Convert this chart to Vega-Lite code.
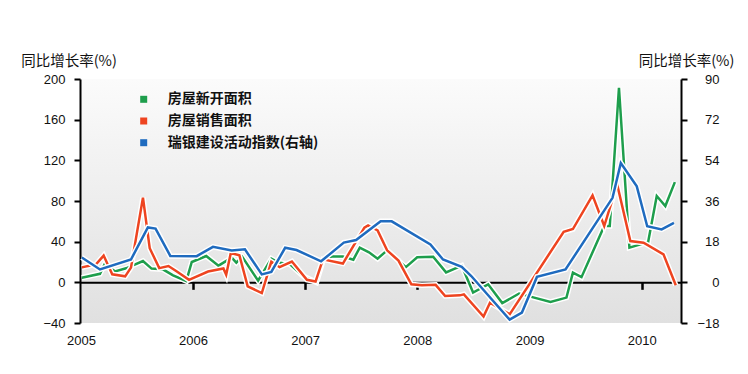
{
  "$schema": "https://vega.github.io/schema/vega-lite/v6.json",
  "width": 601,
  "height": 244,
  "autosize": "none",
  "padding": {"left": 80, "top": 79, "right": 67, "bottom": 51},
  "background": "#ffffff",
  "config": {
    "view": {"stroke": null, "fill": {"gradient": "linear", "x1": 0, "y1": 0, "x2": 0, "y2": 1, "stops": [{"offset": 0, "color": "#fbfbfb"}, {"offset": 1, "color": "#e0e0e0"}]}},
    "axis": {"grid": false, "labelFont": "Liberation Sans", "labelFontSize": 13, "labelColor": "#111111", "domainColor": "#000000", "tickColor": "#000000", "domainWidth": 2, "tickWidth": 2, "titleFont": "Noto Sans CJK SC", "titleFontSize": 14.5, "titleColor": "#111111", "titleFontWeight": "normal"}
  },
  "data": {"values": [
    {"s": "房屋新开面积", "d": "2005-01-04", "v": 4.6},
    {"s": "房屋新开面积", "d": "2005-03-04", "v": 8.4},
    {"s": "房屋新开面积", "d": "2005-03-19", "v": 17.7},
    {"s": "房屋新开面积", "d": "2005-04-22", "v": 10.8},
    {"s": "房屋新开面积", "d": "2005-05-28", "v": 13.8},
    {"s": "房屋新开面积", "d": "2005-07-22", "v": 21},
    {"s": "房屋新开面积", "d": "2005-08-19", "v": 13.5},
    {"s": "房屋新开面积", "d": "2005-09-25", "v": 12.8},
    {"s": "房屋新开面积", "d": "2005-10-28", "v": 6.9},
    {"s": "房屋新开面积", "d": "2005-12-10", "v": 1.3},
    {"s": "房屋新开面积", "d": "2005-12-28", "v": 20},
    {"s": "房屋新开面积", "d": "2006-02-13", "v": 25.9},
    {"s": "房屋新开面积", "d": "2006-03-25", "v": 16.4},
    {"s": "房屋新开面积", "d": "2006-05-07", "v": 24.3},
    {"s": "房屋新开面积", "d": "2006-05-22", "v": 19.4},
    {"s": "房屋新开面积", "d": "2006-06-10", "v": 25.3},
    {"s": "房屋新开面积", "d": "2006-08-01", "v": 1.7},
    {"s": "房屋新开面积", "d": "2006-09-13", "v": 23.3},
    {"s": "房屋新开面积", "d": "2006-10-07", "v": 19.4},
    {"s": "房屋新开面积", "d": "2006-11-13", "v": 17.7},
    {"s": "房屋新开面积", "d": "2006-12-25", "v": 6.2},
    {"s": "房屋新开面积", "d": "2007-02-07", "v": 0},
    {"s": "房屋新开面积", "d": "2007-03-01", "v": 22.1},
    {"s": "房屋新开面积", "d": "2007-03-28", "v": 25.3},
    {"s": "房屋新开面积", "d": "2007-05-04", "v": 25.3},
    {"s": "房屋新开面积", "d": "2007-06-07", "v": 22.3},
    {"s": "房屋新开面积", "d": "2007-06-28", "v": 34.1},
    {"s": "房屋新开面积", "d": "2007-07-28", "v": 29.5},
    {"s": "房屋新开面积", "d": "2007-08-25", "v": 23.3},
    {"s": "房屋新开面积", "d": "2007-09-25", "v": 31.5},
    {"s": "房屋新开面积", "d": "2007-11-25", "v": 14.9},
    {"s": "房屋新开面积", "d": "2008-01-01", "v": 24.6},
    {"s": "房屋新开面积", "d": "2008-02-22", "v": 25.1},
    {"s": "房屋新开面积", "d": "2008-04-04", "v": 9.8},
    {"s": "房屋新开面积", "d": "2008-05-25", "v": 16.4},
    {"s": "房屋新开面积", "d": "2008-07-01", "v": -10.1},
    {"s": "房屋新开面积", "d": "2008-08-19", "v": -2.0},
    {"s": "房屋新开面积", "d": "2008-10-04", "v": -20.4},
    {"s": "房屋新开面积", "d": "2008-11-28", "v": -11.0},
    {"s": "房屋新开面积", "d": "2009-01-16", "v": -15},
    {"s": "房屋新开面积", "d": "2009-03-10", "v": -19.2},
    {"s": "房屋新开面积", "d": "2009-05-01", "v": -15},
    {"s": "房屋新开面积", "d": "2009-05-22", "v": 9.5},
    {"s": "房屋新开面积", "d": "2009-06-19", "v": 5.1},
    {"s": "房屋新开面积", "d": "2009-09-01", "v": 55.4},
    {"s": "房屋新开面积", "d": "2009-09-19", "v": 55.4},
    {"s": "房屋新开面积", "d": "2009-10-19", "v": 191.4},
    {"s": "房屋新开面积", "d": "2009-11-22", "v": 34.1},
    {"s": "房屋新开面积", "d": "2010-01-22", "v": 39.6},
    {"s": "房屋新开面积", "d": "2010-02-19", "v": 84.9},
    {"s": "房屋新开面积", "d": "2010-03-19", "v": 75},
    {"s": "房屋新开面积", "d": "2010-04-19", "v": 98.6},
    {"s": "房屋销售面积", "d": "2005-01-04", "v": 14.7},
    {"s": "房屋销售面积", "d": "2005-02-19", "v": 17.7},
    {"s": "房屋销售面积", "d": "2005-03-16", "v": 26.3},
    {"s": "房屋销售面积", "d": "2005-04-13", "v": 7.9},
    {"s": "房屋销售面积", "d": "2005-05-25", "v": 5.9},
    {"s": "房屋销售面积", "d": "2005-06-13", "v": 14.5},
    {"s": "房屋销售面积", "d": "2005-07-22", "v": 83.3},
    {"s": "房屋销售面积", "d": "2005-08-13", "v": 33.6},
    {"s": "房屋销售面积", "d": "2005-09-13", "v": 14.0},
    {"s": "房屋销售面积", "d": "2005-10-13", "v": 16.0},
    {"s": "房屋销售面积", "d": "2005-11-07", "v": 11.1},
    {"s": "房屋销售面积", "d": "2005-12-19", "v": 2.5},
    {"s": "房屋销售面积", "d": "2006-02-19", "v": 10.6},
    {"s": "房屋销售面积", "d": "2006-04-10", "v": 13.6},
    {"s": "房屋销售面积", "d": "2006-04-19", "v": 7.4},
    {"s": "房屋销售面积", "d": "2006-05-04", "v": 28.8},
    {"s": "房屋销售面积", "d": "2006-06-01", "v": 26.7},
    {"s": "房屋销售面积", "d": "2006-06-28", "v": -3.9},
    {"s": "房屋销售面积", "d": "2006-08-13", "v": -10.5},
    {"s": "房屋销售面积", "d": "2006-09-13", "v": 20.2},
    {"s": "房屋销售面积", "d": "2006-10-10", "v": 14.9},
    {"s": "房屋销售面积", "d": "2006-11-19", "v": 20.5},
    {"s": "房屋销售面积", "d": "2007-01-07", "v": 2.5},
    {"s": "房屋销售面积", "d": "2007-02-04", "v": 0.8},
    {"s": "房屋销售面积", "d": "2007-02-28", "v": 22.6},
    {"s": "房屋销售面积", "d": "2007-05-04", "v": 18.5},
    {"s": "房屋销售面积", "d": "2007-07-13", "v": 53.8},
    {"s": "房屋销售面积", "d": "2007-07-25", "v": 56.0},
    {"s": "房屋销售面积", "d": "2007-08-25", "v": 51.1},
    {"s": "房屋销售面积", "d": "2007-09-25", "v": 31.5},
    {"s": "房屋销售面积", "d": "2007-11-01", "v": 21.4},
    {"s": "房屋销售面积", "d": "2007-12-13", "v": -2.0},
    {"s": "房屋销售面积", "d": "2008-01-16", "v": -2.9},
    {"s": "房屋销售面积", "d": "2008-03-01", "v": -2.5},
    {"s": "房屋销售面积", "d": "2008-04-01", "v": -13.5},
    {"s": "房屋销售面积", "d": "2008-05-19", "v": -12.8},
    {"s": "房屋销售面积", "d": "2008-06-01", "v": -11.8},
    {"s": "房屋销售面积", "d": "2008-08-04", "v": -33.7},
    {"s": "房屋销售面积", "d": "2008-08-25", "v": -20.0},
    {"s": "房屋销售面积", "d": "2008-10-28", "v": -31.5},
    {"s": "房屋销售面积", "d": "2009-04-22", "v": 49.7},
    {"s": "房屋销售面积", "d": "2009-05-22", "v": 52.4},
    {"s": "房屋销售面积", "d": "2009-07-25", "v": 85.5},
    {"s": "房屋销售面积", "d": "2009-09-01", "v": 55.4},
    {"s": "房屋销售面积", "d": "2009-10-13", "v": 96.4},
    {"s": "房屋销售面积", "d": "2009-11-25", "v": 40.6},
    {"s": "房屋销售面积", "d": "2010-01-07", "v": 39.0},
    {"s": "房屋销售面积", "d": "2010-03-13", "v": 27.5},
    {"s": "房屋销售面积", "d": "2010-04-22", "v": -2.9},
    {"s": "瑞银建设活动指数(右轴)", "d": "2005-01-04", "v": 11.0},
    {"s": "瑞银建设活动指数(右轴)", "d": "2005-03-04", "v": 5.7},
    {"s": "瑞银建设活动指数(右轴)", "d": "2005-06-13", "v": 10.1},
    {"s": "瑞银建设活动指数(右轴)", "d": "2005-08-07", "v": 24.3},
    {"s": "瑞银建设活动指数(右轴)", "d": "2005-09-01", "v": 23.8},
    {"s": "瑞银建设活动指数(右轴)", "d": "2005-10-19", "v": 11.7},
    {"s": "瑞银建设活动指数(右轴)", "d": "2006-01-13", "v": 11.6},
    {"s": "瑞银建设活动指数(右轴)", "d": "2006-03-07", "v": 15.7},
    {"s": "瑞银建设活动指数(右轴)", "d": "2006-05-07", "v": 14.1},
    {"s": "瑞银建设活动指数(右轴)", "d": "2006-06-19", "v": 14.6},
    {"s": "瑞银建设活动指数(右轴)", "d": "2006-08-13", "v": 3.5},
    {"s": "瑞银建设活动指数(右轴)", "d": "2006-09-13", "v": 4.6},
    {"s": "瑞银建设活动指数(右轴)", "d": "2006-10-28", "v": 15.3},
    {"s": "瑞银建设活动指数(右轴)", "d": "2006-12-04", "v": 14.3},
    {"s": "瑞银建设活动指数(右轴)", "d": "2007-02-22", "v": 9.3},
    {"s": "瑞银建设活动指数(右轴)", "d": "2007-05-07", "v": 17.6},
    {"s": "瑞银建设活动指数(右轴)", "d": "2007-06-16", "v": 18.7},
    {"s": "瑞银建设活动指数(右轴)", "d": "2007-09-04", "v": 27.0},
    {"s": "瑞银建设活动指数(右轴)", "d": "2007-10-10", "v": 27.0},
    {"s": "瑞银建设活动指数(右轴)", "d": "2008-02-13", "v": 16.8},
    {"s": "瑞银建设活动指数(右轴)", "d": "2008-03-25", "v": 10.1},
    {"s": "瑞银建设活动指数(右轴)", "d": "2008-05-25", "v": 6.9},
    {"s": "瑞银建设活动指数(右轴)", "d": "2008-06-25", "v": 2.8},
    {"s": "瑞银建设活动指数(右轴)", "d": "2008-10-28", "v": -16.5},
    {"s": "瑞银建设活动指数(右轴)", "d": "2008-12-07", "v": -13.4},
    {"s": "瑞银建设活动指数(右轴)", "d": "2009-01-25", "v": 2.4},
    {"s": "瑞银建设活动指数(右轴)", "d": "2009-04-28", "v": 5.7},
    {"s": "瑞银建设活动指数(右轴)", "d": "2009-09-28", "v": 37.4},
    {"s": "瑞银建设活动指数(右轴)", "d": "2009-10-25", "v": 52.8},
    {"s": "瑞银建设活动指数(右轴)", "d": "2009-12-16", "v": 42.5},
    {"s": "瑞银建设活动指数(右轴)", "d": "2010-01-19", "v": 24.8},
    {"s": "瑞银建设活动指数(右轴)", "d": "2010-03-07", "v": 23.4},
    {"s": "瑞银建设活动指数(右轴)", "d": "2010-04-16", "v": 26.3}
  ]},
  "layer": [
    {
      "encoding": {
        "x": {"field": "d", "type": "temporal",
          "scale": {"domain": [{"year": 2004, "month": 12, "date": 29}, {"year": 2010, "month": 5, "date": 9}]},
          "axis": {"orient": "bottom", "values": [{"year": 2005}, {"year": 2006}, {"year": 2007}, {"year": 2008}, {"year": 2009}, {"year": 2010}], "format": "%Y", "domain": false, "ticks": false, "labelPadding": 11, "title": null, "labelFlush": false, "labelOverlap": false}},
        "y": {"field": "v", "type": "quantitative",
          "scale": {"domain": [-40, 200], "nice": false, "zero": false},
          "axis": {"orient": "left", "values": [-40, 0, 40, 80, 120, 160, 200], "tickSize": 6, "labelPadding": 9, "title": "同比增长率(%)", "titleAngle": 0, "titleX": -11.5, "titleY": -18, "titleAlign": "center", "titleBaseline": "middle"}}
      },
      "layer": [
        {"transform": [{"filter": "datum.s === '房屋新开面积'"}], "mark": {"type": "line", "stroke": "#ffffff", "strokeWidth": 5.5}, "encoding": {}},
        {"transform": [{"filter": "datum.s === '房屋新开面积'"}], "mark": {"type": "line", "strokeWidth": 2.5},
          "encoding": {"color": {"field": "s", "type": "nominal",
            "scale": {"domain": ["房屋新开面积", "房屋销售面积", "瑞银建设活动指数(右轴)"], "range": ["#1e9e4c", "#ee4420", "#1f6bbf"]},
            "legend": {"title": null, "orient": "none", "legendX": 56.7, "legendY": 13.3, "symbolType": "square", "symbolSize": 49, "labelFont": "Noto Sans CJK SC", "labelFontSize": 14, "labelFontWeight": "bold", "labelColor": "#111111", "labelOffset": 17, "rowPadding": 7.7, "padding": 0,
              "encode": {"symbols": {"update": {"fill": {"scale": "color", "field": "value"}, "strokeWidth": {"value": 0}}}}}}}},
        {"transform": [{"filter": "datum.s === '房屋销售面积'"}], "mark": {"type": "line", "stroke": "#ffffff", "strokeWidth": 5.5}, "encoding": {}},
        {"transform": [{"filter": "datum.s === '房屋销售面积'"}], "mark": {"type": "line", "strokeWidth": 2.5},
          "encoding": {"color": {"field": "s", "type": "nominal"}}}
      ]
    },
    {
      "transform": [{"filter": "datum.s === '瑞银建设活动指数(右轴)'"}],
      "encoding": {
        "x": {"field": "d", "type": "temporal",
          "axis": {"orient": "bottom", "offset": -40.67, "values": [{"year": 2006}, {"year": 2007}, {"year": 2008}, {"year": 2009}, {"year": 2010}], "labels": false, "tickSize": 7, "tickWidth": 2.5, "domainWidth": 2, "title": null}},
        "y": {"field": "v", "type": "quantitative",
          "scale": {"domain": [-18, 90], "nice": false, "zero": false},
          "axis": {"orient": "right", "values": [-18, 0, 18, 36, 54, 72, 90], "tickSize": 6, "labelAlign": "right", "labelPadding": 32, "title": "同比增长率(%)", "titleAngle": 0, "titleX": 5, "titleY": -18, "titleAlign": "center", "titleBaseline": "middle"}}
      },
      "layer": [
        {"mark": {"type": "line", "stroke": "#ffffff", "strokeWidth": 5.5}, "encoding": {}},
        {"mark": {"type": "line", "strokeWidth": 2.5}, "encoding": {"color": {"field": "s", "type": "nominal"}}}
      ]
    }
  ],
  "resolve": {"scale": {"y": "independent"}, "axis": {"x": "independent", "y": "independent"}}
}
